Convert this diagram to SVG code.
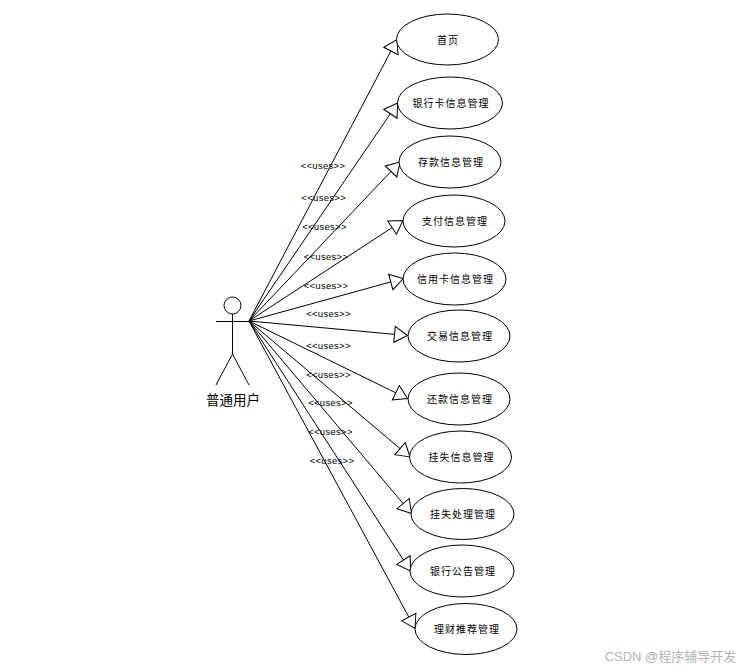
<svg xmlns="http://www.w3.org/2000/svg" width="745" height="669" viewBox="0 0 745 669">
<style>
text{font-family:"Liberation Sans","Noto Sans CJK SC",sans-serif;fill:#000;text-anchor:middle}
.e{fill:#fff;stroke:#000;stroke-width:1}
.t{font-size:10px;letter-spacing:1px}
.u{font-size:9.500px;letter-spacing:.3px}
.c line{stroke:#000;stroke-width:1;marker-end:url(#a)}
.s{fill:none;stroke:#000;stroke-width:1}
</style>
<defs>
<marker id="a" markerUnits="userSpaceOnUse" markerWidth="16" markerHeight="18" viewBox="0 0 15 18" refX="14" refY="9" orient="auto">
<path d="M1 1L14 9L1 17Z" fill="#fff" stroke="#000" stroke-width="1"/>
</marker>
</defs>
<rect width="745" height="669" fill="#fff"/>
<g id="connectors" class="c">
<line x1="249" y1="321" x2="397" y2="39.500"/>
<line x1="249" y1="321" x2="397.700" y2="103"/>
<line x1="249" y1="321" x2="400" y2="162"/>
<line x1="249" y1="321" x2="403" y2="220.500"/>
<line x1="249" y1="321" x2="403.300" y2="278.500"/>
<line x1="249" y1="321" x2="407.500" y2="335.500"/>
<line x1="249" y1="321" x2="407.500" y2="398.500"/>
<line x1="249" y1="321" x2="410" y2="457"/>
<line x1="249" y1="321" x2="411.500" y2="513.500"/>
<line x1="249" y1="321" x2="410.500" y2="571"/>
<line x1="249" y1="321" x2="415" y2="628.500"/>
</g>
<g id="labels">
<text class="u" x="323" y="168.500">&lt;&lt;uses&gt;&gt;</text>
<text class="u" x="323.700" y="200.500">&lt;&lt;uses&gt;&gt;</text>
<text class="u" x="324.500" y="230">&lt;&lt;uses&gt;&gt;</text>
<text class="u" x="326" y="260">&lt;&lt;uses&gt;&gt;</text>
<text class="u" x="326" y="288.500">&lt;&lt;uses&gt;&gt;</text>
<text class="u" x="328.500" y="317">&lt;&lt;uses&gt;&gt;</text>
<text class="u" x="328.500" y="348.500">&lt;&lt;uses&gt;&gt;</text>
<text class="u" x="328.500" y="377.500">&lt;&lt;uses&gt;&gt;</text>
<text class="u" x="330.500" y="406">&lt;&lt;uses&gt;&gt;</text>
<text class="u" x="330.500" y="435">&lt;&lt;uses&gt;&gt;</text>
<text class="u" x="332" y="463.500">&lt;&lt;uses&gt;&gt;</text>
</g>
<g id="actor">
<circle class="s" cx="232.500" cy="305.500" r="8.500"/>
<path class="s" d="M232.500 314V354M216 321.500H249M232.500 354L216 385M232.500 354L249 385"/>
<text x="233" y="404.500" style="font-size:13.500px">普通用户</text>
</g>
<g id="n1"><ellipse class="e" cx="447.500" cy="39.500" rx="51" ry="25.500"/><text class="t" x="448" y="43.500">首页</text></g>
<g id="n2"><ellipse class="e" cx="450" cy="103" rx="52.500" ry="26"/><text class="t" x="451" y="107">银行卡信息管理</text></g>
<g id="n3"><ellipse class="e" cx="450" cy="162" rx="51" ry="26"/><text class="t" x="451" y="166">存款信息管理</text></g>
<g id="n4"><ellipse class="e" cx="454" cy="221" rx="51" ry="26"/><text class="t" x="455" y="225">支付信息管理</text></g>
<g id="n5"><ellipse class="e" cx="454.500" cy="279" rx="51.500" ry="26"/><text class="t" x="455.500" y="283">信用卡信息管理</text></g>
<g id="n6"><ellipse class="e" cx="459" cy="336" rx="51" ry="26"/><text class="t" x="460" y="340">交易信息管理</text></g>
<g id="n7"><ellipse class="e" cx="459" cy="399" rx="51" ry="26"/><text class="t" x="460" y="403">还款信息管理</text></g>
<g id="n8"><ellipse class="e" cx="460.500" cy="457" rx="51" ry="26"/><text class="t" x="461.500" y="461">挂失信息管理</text></g>
<g id="n9"><ellipse class="e" cx="462.500" cy="514" rx="51.500" ry="25.500"/><text class="t" x="463" y="518">挂失处理管理</text></g>
<g id="n10"><ellipse class="e" cx="462" cy="571" rx="52" ry="26"/><text class="t" x="463" y="575">银行公告管理</text></g>
<g id="n11"><ellipse class="e" cx="466" cy="629" rx="51" ry="25.500"/><text class="t" x="467" y="633">理财推荐管理</text></g>
<text x="670.500" y="661" style="font-size:13px;fill:#b4b4b4">CSDN @程序辅导开发</text>
</svg>
